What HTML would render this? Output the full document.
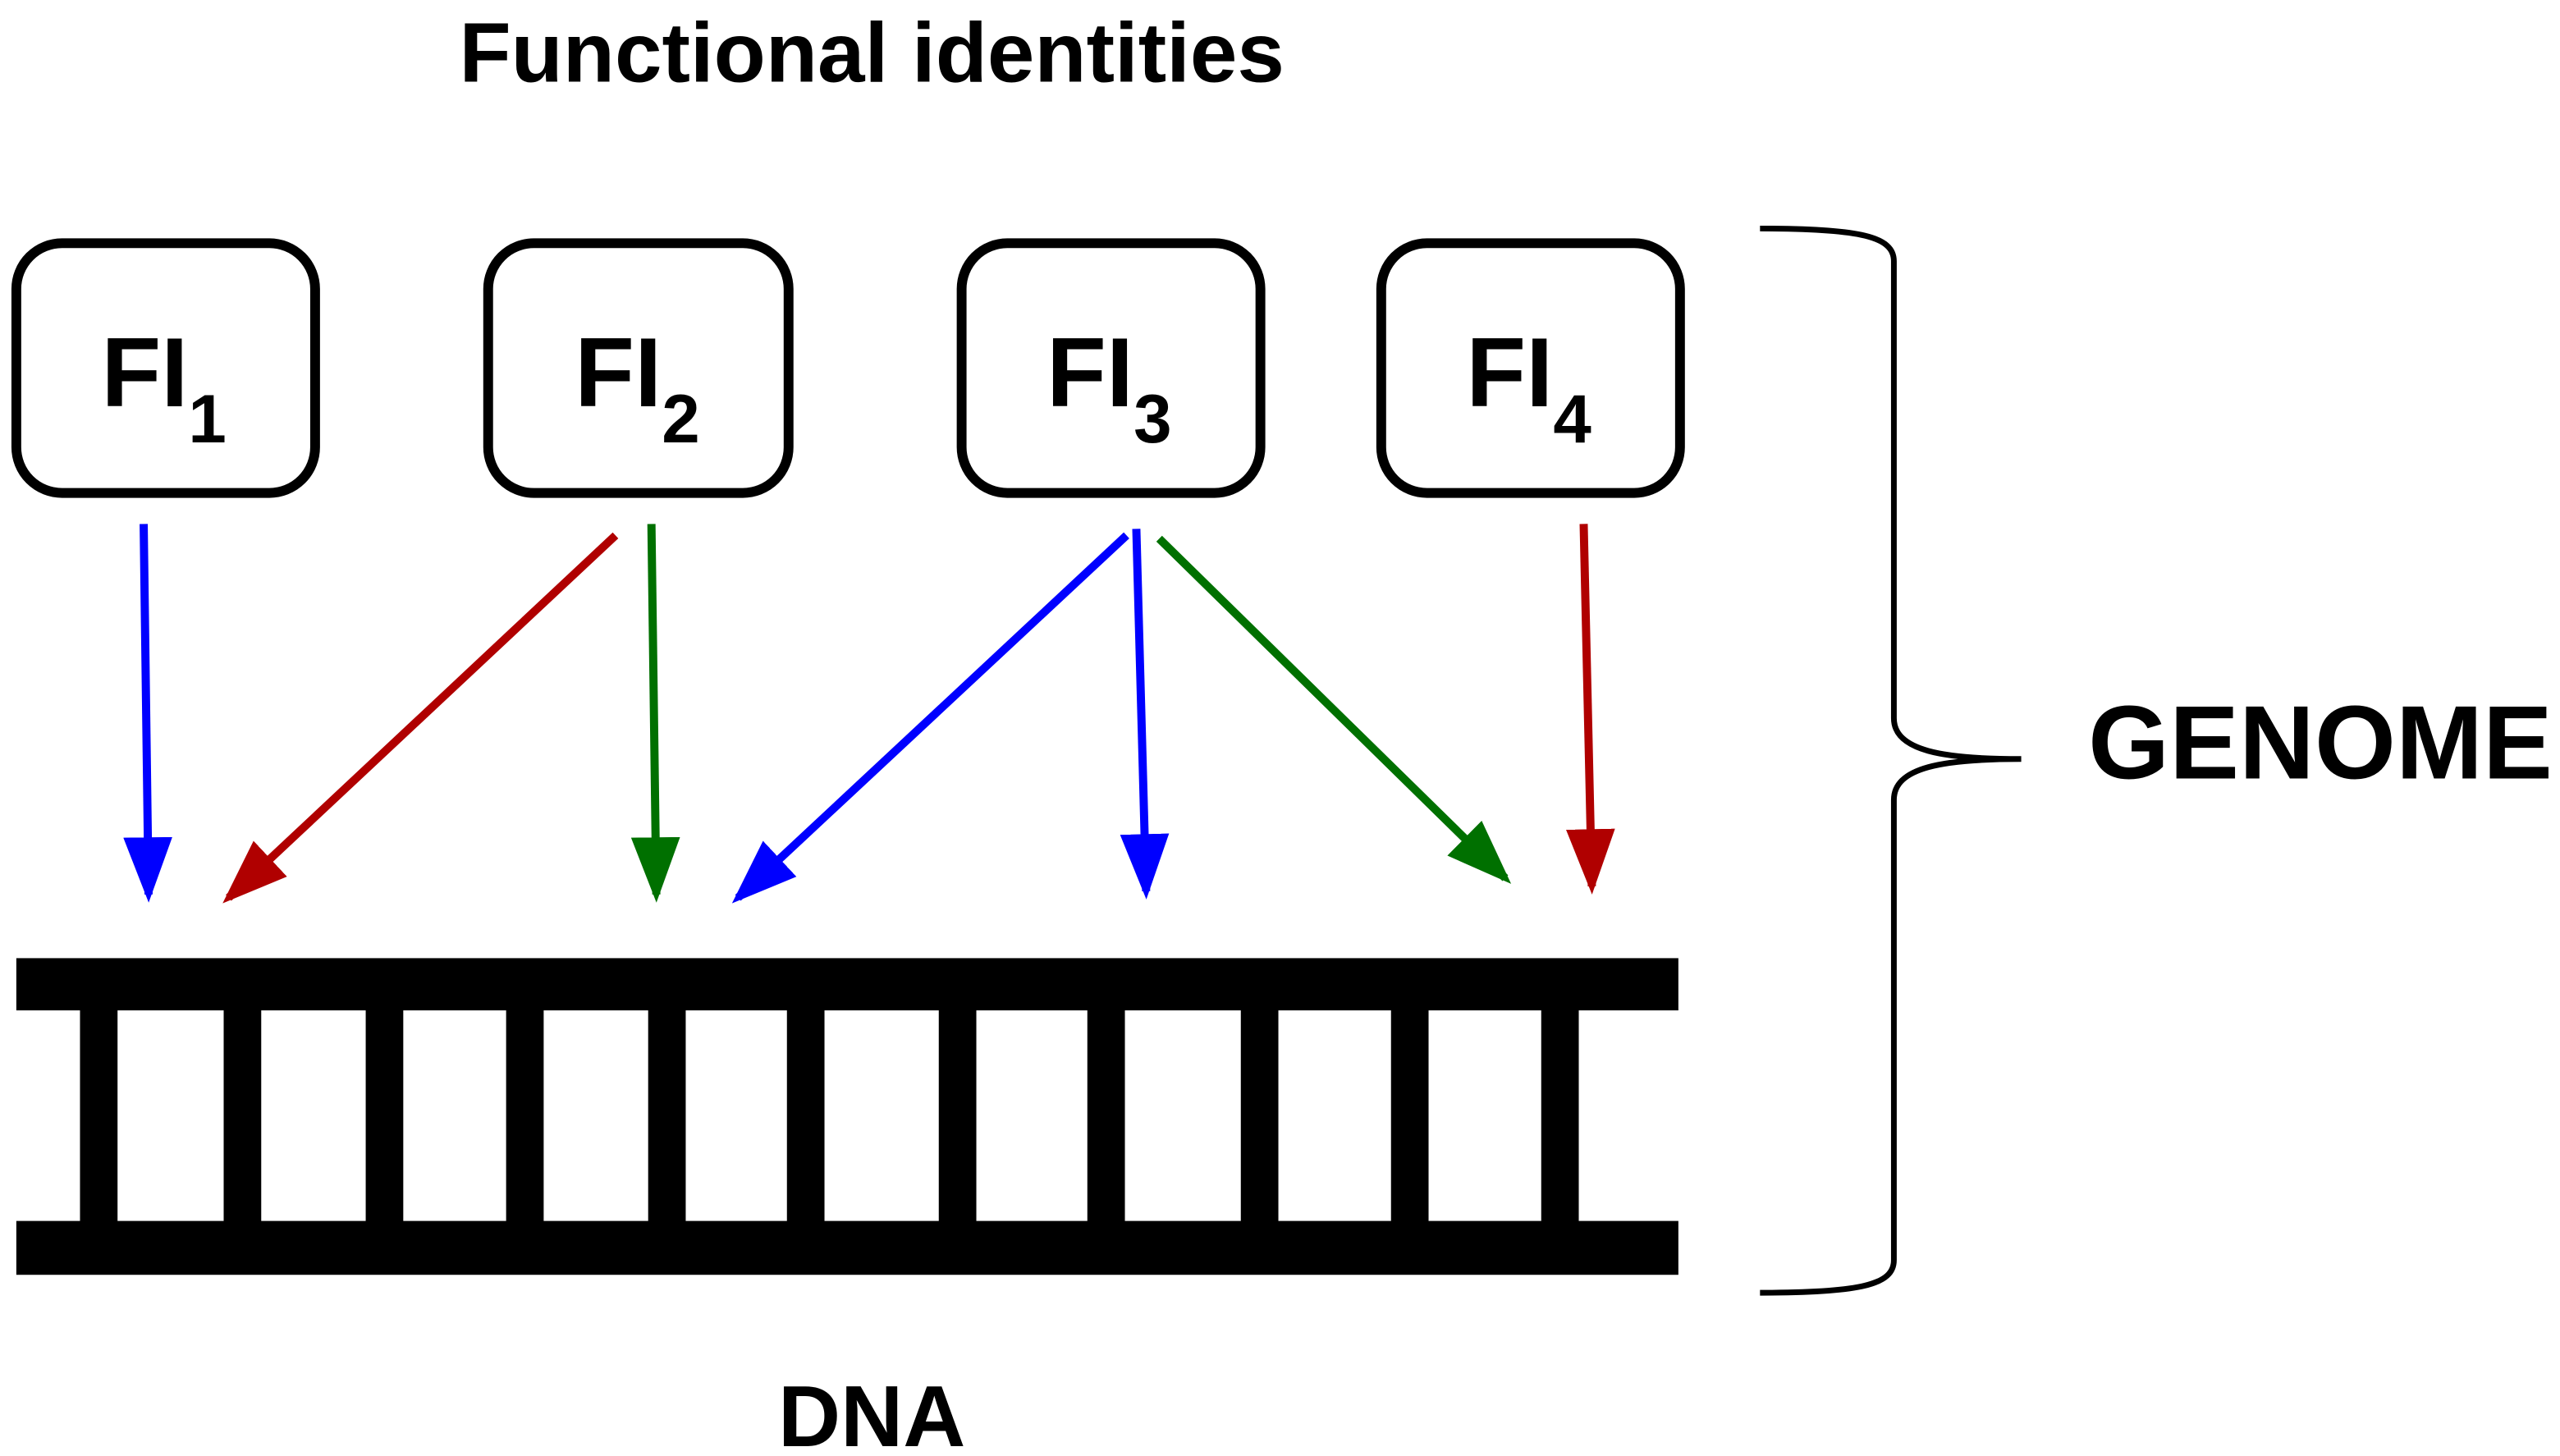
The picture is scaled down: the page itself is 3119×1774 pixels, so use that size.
<!DOCTYPE html>
<html><head><meta charset="utf-8"><style>
html,body{margin:0;padding:0;background:#fff;}
svg{display:block;}
text{font-family:"Liberation Sans",Arial,sans-serif;font-weight:bold;fill:#000;}
</style></head><body>
<svg width="3119" height="1774" viewBox="0 0 1568 892" preserveAspectRatio="none" xmlns="http://www.w3.org/2000/svg">
<defs>
<marker id="b" markerWidth="8" markerHeight="6" refX="7" refY="3" orient="auto" markerUnits="strokeWidth" viewBox="0 0 8 6"><path d="M0,0 L8,3 L0,6 Z" fill="#0000ff"/></marker>
<marker id="r" markerWidth="8" markerHeight="6" refX="7" refY="3" orient="auto" markerUnits="strokeWidth" viewBox="0 0 8 6"><path d="M0,0 L8,3 L0,6 Z" fill="#b00000"/></marker>
<marker id="g" markerWidth="8" markerHeight="6" refX="7" refY="3" orient="auto" markerUnits="strokeWidth" viewBox="0 0 8 6"><path d="M0,0 L8,3 L0,6 Z" fill="#007000"/></marker>
</defs>
<text x="534" y="50" font-size="52" text-anchor="middle">Functional identities</text>
<g fill="none" stroke="#000" stroke-width="6">
<rect x="10" y="149" width="183" height="153" rx="28"/>
<rect x="299" y="149" width="184" height="153" rx="28"/>
<rect x="589" y="149" width="183" height="153" rx="28"/>
<rect x="846" y="149" width="183" height="153" rx="28"/>
</g>
<text x="62" y="249" font-size="60">FI<tspan font-size="42" dy="22">1</tspan></text>
<text x="352" y="249" font-size="60">FI<tspan font-size="42" dy="22">2</tspan></text>
<text x="641" y="249" font-size="60">FI<tspan font-size="42" dy="22">3</tspan></text>
<text x="898" y="249" font-size="60">FI<tspan font-size="42" dy="22">4</tspan></text>
<g stroke-width="5" fill="none">
<line x1="88" y1="321" x2="91" y2="548" stroke="#0000ff" marker-end="url(#b)"/>
<line x1="377" y1="328" x2="140" y2="550" stroke="#b00000" marker-end="url(#r)"/>
<line x1="399" y1="321" x2="402" y2="548" stroke="#007000" marker-end="url(#g)"/>
<line x1="690" y1="328" x2="452" y2="550" stroke="#0000ff" marker-end="url(#b)"/>
<line x1="696" y1="324" x2="702" y2="546" stroke="#0000ff" marker-end="url(#b)"/>
<line x1="710" y1="330" x2="922" y2="538" stroke="#007000" marker-end="url(#g)"/>
<line x1="970" y1="321" x2="975" y2="543" stroke="#b00000" marker-end="url(#r)"/>
</g>
<rect x="10" y="587" width="1018" height="32" fill="#000"/>
<rect x="10" y="748" width="1018" height="33" fill="#000"/>
<g fill="#000">
<rect x="49" y="615" width="23" height="136"/>
<rect x="137" y="615" width="23" height="136"/>
<rect x="224" y="615" width="23" height="136"/>
<rect x="310" y="615" width="23" height="136"/>
<rect x="397" y="615" width="23" height="136"/>
<rect x="482" y="615" width="23" height="136"/>
<rect x="575" y="615" width="23" height="136"/>
<rect x="666" y="615" width="23" height="136"/>
<rect x="760" y="615" width="23" height="136"/>
<rect x="852" y="615" width="23" height="136"/>
<rect x="944" y="615" width="23" height="136"/>
</g>
<path d="M1078,140 C1140,140 1160,145 1160,160 L1160,440 C1160,460 1190,465 1238,465 C1190,465 1160,470 1160,490 L1160,772 C1160,787 1140,792 1078,792" fill="none" stroke="#000" stroke-width="3.5"/>
<text x="1279" y="477" font-size="64">GENOME</text>
<text x="534" y="886" font-size="53" text-anchor="middle">DNA</text>
</svg>
</body></html>
